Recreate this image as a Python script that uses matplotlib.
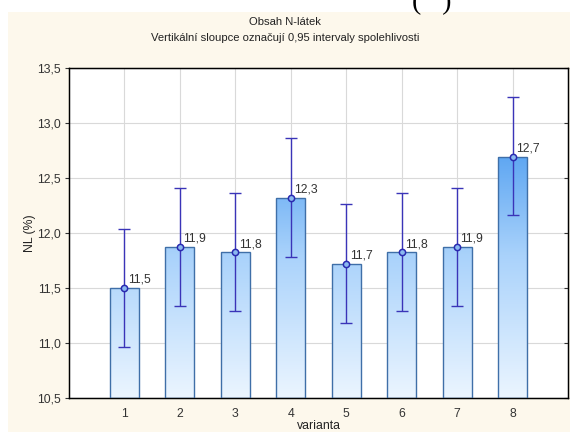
import numpy as np
import matplotlib
matplotlib.use("Agg")
import matplotlib.pyplot as plt
from matplotlib.colors import LinearSegmentedColormap

plt.rcParams["font.family"] = ["Liberation Sans", "DejaVu Sans"]

# data
varianta = [1, 2, 3, 4, 5, 6, 7, 8]
prumer = [11.50, 11.875, 11.825, 12.32, 11.72, 11.825, 11.875, 12.695]
ci_lo = [10.965, 11.34, 11.29, 11.785, 11.185, 11.29, 11.34, 12.16]
ci_hi = [12.04, 12.41, 12.365, 12.86, 12.26, 12.365, 12.41, 13.235]
popisky = ["11,5", "11,9", "11,8", "12,3", "11,7", "11,8", "11,9", "12,7"]
y_ticks = [10.5, 11.0, 11.5, 12.0, 12.5, 13.0, 13.5]
y_ticklabels = ["10,5", "11,0", "11,5", "12,0", "12,5", "13,0", "13,5"]

fig = plt.figure(figsize=(5.7, 4.32), dpi=100)
fig.patch.set_facecolor("white")
# cream panel (top white strip comes from the source document)
fig.patches.append(plt.Rectangle((8 / 570, 0), 1, 1 - 12 / 432, transform=fig.transFigure,
                                 facecolor="#fdf8ec", edgecolor="none", zorder=-5))
fig.text(432 / 570, 1 - 9 / 432, "(   )", fontsize=20, family="Liberation Serif",
         ha="center", va="baseline", color="black")

ax = fig.add_axes([69 / 570, 34 / 432, 499 / 570, 330 / 432])
ax.set_facecolor("white")

cmap = LinearSegmentedColormap.from_list("g", ["#ebf5ff", "#a9d2fb", "#3d93ee"])
grad = np.linspace(0, 1, 256).reshape(-1, 1)
bars = ax.bar(varianta, [p - 10.5 for p in prumer], bottom=10.5, width=0.52,
              facecolor="none", edgecolor="#3f6fa8", linewidth=1.0, zorder=3)
for b in bars:
    im = ax.imshow(grad, extent=(0, 9, 10.5, 13.1), origin="lower", aspect="auto",
                   cmap=cmap, zorder=2, interpolation="bilinear")
    im.set_clip_path(b)
ax.set_xlim(0, 9)
ax.set_ylim(10.5, 13.5)

err = [np.array(prumer) - np.array(ci_lo), np.array(ci_hi) - np.array(prumer)]
ax.errorbar(varianta, prumer, yerr=err, fmt="none", ecolor="#3a34b8", elinewidth=1.0,
            capsize=4, capthick=1.0, zorder=4)
ax.plot(varianta, prumer, "o", ms=4.5, mfc="#8ab8f0", mec="#2a2ab0", mew=1.1, zorder=5)
for x, y, t in zip(varianta, prumer, popisky):
    ax.annotate(t, (x, y), xytext=(2.5, 1.5), textcoords="offset points",
                fontsize=8.8, color="#333333", ha="left", va="bottom", zorder=6)

ax.set_xticks(varianta)
ax.set_xticklabels([str(v) for v in varianta])
ax.set_yticks(y_ticks)
ax.set_yticklabels(y_ticklabels)
ax.grid(True, color="#d9d9d9", linewidth=0.8, zorder=0)
ax.set_axisbelow(True)
ax.tick_params(axis="x", direction="in", length=3, labelsize=8.8, colors="#333333", pad=7)
ax.tick_params(axis="y", direction="out", length=3, labelsize=8.8, colors="#333333", pad=3)
for s in ax.spines.values():
    s.set_color("black")
    s.set_linewidth(1.0)

# inward ticks on the right spine
axr = ax.twinx()
axr.set_ylim(ax.get_ylim())
axr.set_yticks(y_ticks)
axr.tick_params(axis="y", direction="in", length=3, labelright=False, colors="#333333")

ax.set_ylabel("NL (%)", fontsize=8.8, color="#222222")
ax.yaxis.set_label_coords(-0.066, 0.5)
ax.set_xlabel("varianta", fontsize=8.8, color="#222222", labelpad=0)
fig.text(285 / 570, 1 - 22 / 432, "Obsah N-látek", ha="center", va="center",
         fontsize=8.1, color="#222222")
fig.text(285 / 570, 1 - 38 / 432, "Vertikální sloupce označují 0,95 intervaly spolehlivosti",
         ha="center", va="center", fontsize=8.1, color="#222222")

fig.savefig("out.png", dpi=100, facecolor=fig.get_facecolor())
